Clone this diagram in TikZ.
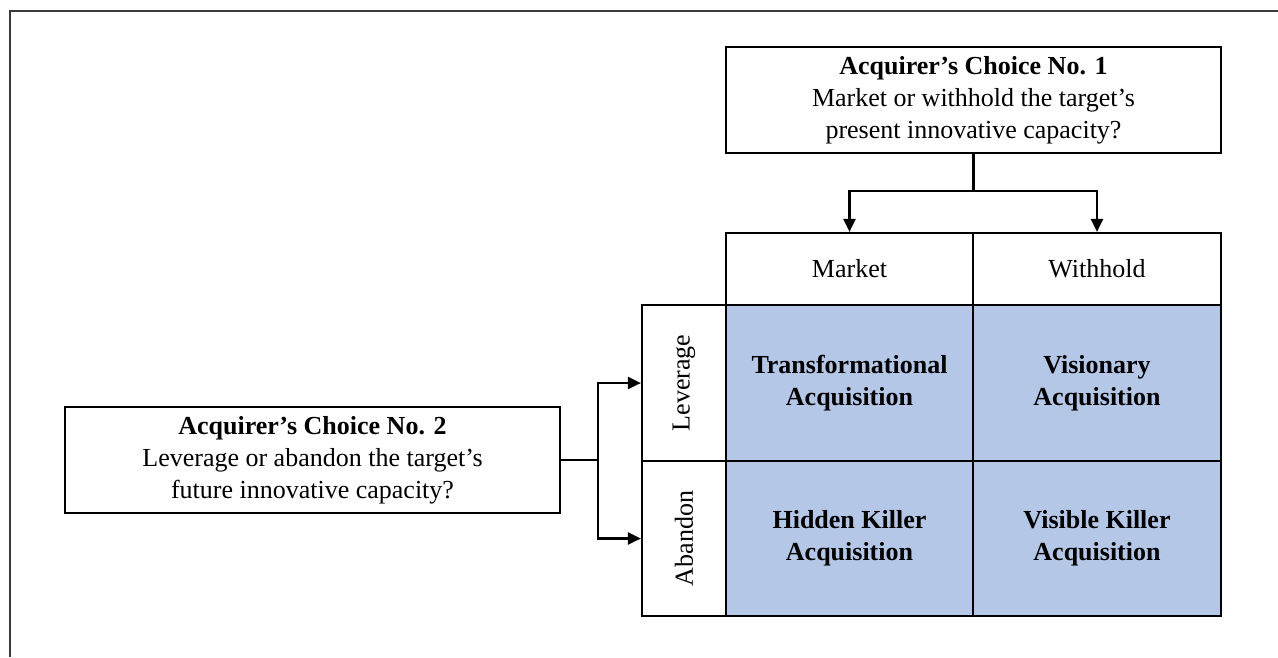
\documentclass[tikz,border=0pt]{standalone}
\usepackage{fontspec}
\setmainfont{Liberation Serif}
\usetikzlibrary{arrows.meta}
\definecolor{cellblue}{HTML}{B4C7E7}
\definecolor{framegray}{HTML}{3A3A3A}
\begin{document}
\begin{tikzpicture}[x=1pt,y=-1pt,
  every node/.style={font=\fontsize{26}{32}\selectfont, align=center, inner sep=0pt},
  box/.style={draw=black, line width=2.2pt, fill=white},
  quad/.style={draw=black, line width=2.2pt, fill=cellblue, font=\fontsize{26}{32}\selectfont\bfseries},
  conn/.style={line width=2.2pt, draw=black},
  arr/.style={conn, -{Triangle[length=13pt,width=12pt]}}]
\useasboundingbox (0,0) rectangle (1278,657);
% page frame
\draw[framegray, line width=2.2pt] (10,657) -- (10,11) -- (1278,11);

% choice boxes
\node[box, minimum width=495pt, minimum height=106pt] (c1) at (973.5,100)
  {\textbf{Acquirer’s Choice No. 1}\\Market or withhold the target’s\\present innovative capacity?};
\node[box, minimum width=495pt, minimum height=106pt] (c2) at (312.5,460)
  {\textbf{Acquirer’s Choice No. 2}\\Leverage or abandon the target’s\\future innovative capacity?};

% column headers
\node[box, minimum width=247pt, minimum height=72pt] (mk) at (849.5,269) {Market};
\node[box, minimum width=248pt, minimum height=72pt] (wh) at (1097,269) {Withhold};

% row headers
\node[box, minimum width=84pt, minimum height=156pt] (lv) at (684,383) {};
\node[rotate=90] at (lv.center) {Leverage};
\node[box, minimum width=84pt, minimum height=155pt] (ab) at (684,538.5) {};
\node[rotate=90] at (ab.center) {Abandon};

% outcome quadrants
\node[quad, minimum width=247pt, minimum height=156pt] (q1) at (849.5,383) {Transformational\\Acquisition};
\node[quad, minimum width=248pt, minimum height=156pt] (q2) at (1097,383) {Visionary\\Acquisition};
\node[quad, minimum width=247pt, minimum height=155pt] (q3) at (849.5,538.5) {Hidden Killer\\Acquisition};
\node[quad, minimum width=248pt, minimum height=155pt] (q4) at (1097,538.5) {Visible Killer\\Acquisition};

% connectors
\coordinate (j1) at (973.5,191);
\coordinate (j2) at (598,460);
\draw[conn] (c1.south) -- (j1);
\draw[arr] (j1) -| (mk.north);
\draw[arr] (j1) -| (wh.north);
\draw[conn] (c2.east) -- (j2);
\draw[arr] (j2) |- (lv.west);
\draw[arr] (j2) |- (ab.west);
\end{tikzpicture}
\end{document}
